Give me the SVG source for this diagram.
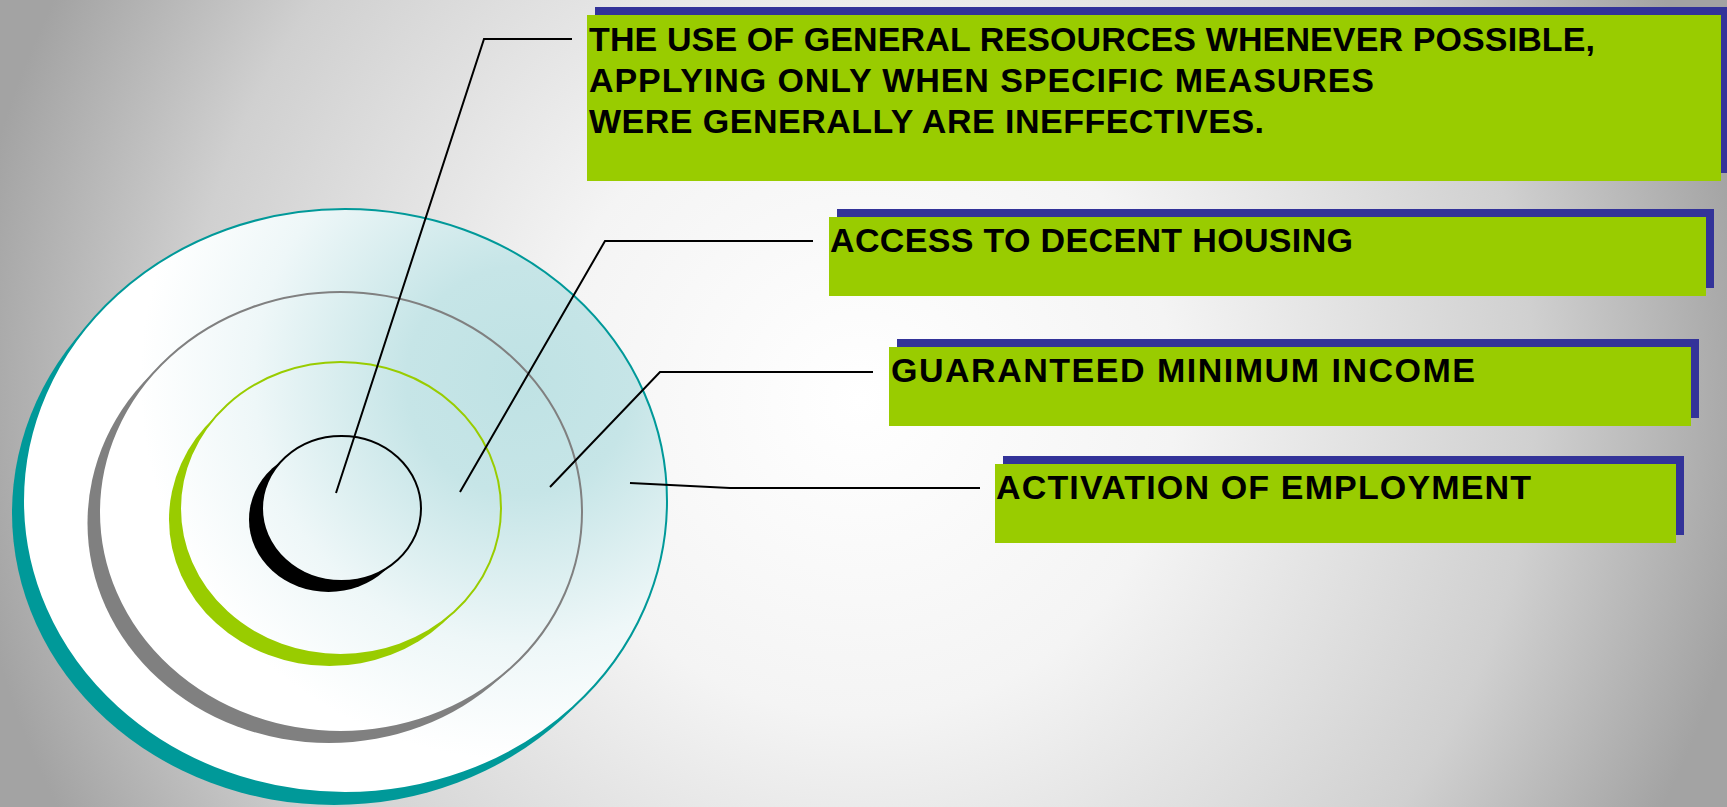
<svg xmlns="http://www.w3.org/2000/svg" width="1727" height="807" viewBox="0 0 1727 807">
<defs>
<radialGradient id="bg" gradientUnits="userSpaceOnUse" cx="860" cy="400" r="900">
<stop offset="0" stop-color="#ffffff"/>
<stop offset="0.35" stop-color="#f4f4f4"/>
<stop offset="0.75" stop-color="#d0d0d0"/>
<stop offset="1" stop-color="#a3a3a3"/>
</radialGradient>
<radialGradient id="disc" gradientUnits="userSpaceOnUse" cx="520" cy="380" r="380">
<stop offset="0" stop-color="#bfe2e4"/>
<stop offset="0.3" stop-color="#c6e5e7"/>
<stop offset="0.7" stop-color="#eef7f8"/>
<stop offset="1" stop-color="#ffffff"/>
</radialGradient>
<style>
.lbl{font-family:"Liberation Sans",Arial,sans-serif;font-weight:bold;font-size:34px;fill:#000}
.green{fill:#99cc00}
.blue{fill:#333399}
.conn{fill:none;stroke:#000;stroke-width:2}
.main{fill:url(#disc);stroke-width:2}
</style>
</defs>
<rect x="0" y="0" width="1727" height="807" fill="url(#bg)"/>

<g id="target">
<ellipse cx="334" cy="513" rx="322" ry="292" fill="#009999"/>
<ellipse class="main" cx="345" cy="501" rx="322" ry="292" stroke="#009999"/>
<ellipse cx="329" cy="523" rx="241.5" ry="220" fill="#808080"/>
<ellipse class="main" cx="340.5" cy="512" rx="241.5" ry="220" stroke="#808080"/>
<ellipse cx="329.5" cy="519.5" rx="160.5" ry="146.5" fill="#99cc00"/>
<ellipse class="main" cx="340.5" cy="508.5" rx="160.5" ry="146.5" stroke="#99cc00"/>
<ellipse cx="328.5" cy="519.5" rx="79.5" ry="72.5" fill="#000000"/>
<ellipse class="main" cx="341.5" cy="508.5" rx="79.5" ry="72.5" stroke="#000000"/>
</g>

<g id="connectors">
<polyline class="conn" points="336,493 484,39 572,39"/>
<polyline class="conn" points="460,492 605,241 813,241"/>
<polyline class="conn" points="550,487 660,372 873,372"/>
<polyline class="conn" points="630,483 730,488 980,488"/>
</g>

<g id="box1">
<rect class="blue" x="595" y="7" width="1134" height="166"/>
<rect class="green" x="587" y="15" width="1134" height="166"/>
<text class="lbl" x="589" y="51" textLength="1006" lengthAdjust="spacing">THE USE OF GENERAL RESOURCES WHENEVER POSSIBLE,</text>
<text class="lbl" x="589" y="92" textLength="785" lengthAdjust="spacing">APPLYING ONLY WHEN SPECIFIC MEASURES</text>
<text class="lbl" x="589" y="133" textLength="675" lengthAdjust="spacing">WERE GENERALLY ARE INEFFECTIVES.</text>
</g>

<g id="box2">
<rect class="blue" x="837" y="209" width="877" height="79"/>
<rect class="green" x="829" y="217" width="877" height="79"/>
<text class="lbl" x="830" y="252" textLength="523" lengthAdjust="spacing">ACCESS TO DECENT HOUSING</text>
</g>

<g id="box3">
<rect class="blue" x="897" y="339" width="802" height="79"/>
<rect class="green" x="889" y="347" width="802" height="79"/>
<text class="lbl" x="891" y="382" textLength="584" lengthAdjust="spacing">GUARANTEED MINIMUM INCOME</text>
</g>

<g id="box4">
<rect class="blue" x="1003" y="456" width="681" height="79"/>
<rect class="green" x="995" y="464" width="681" height="79"/>
<text class="lbl" x="996" y="499" textLength="535" lengthAdjust="spacing">ACTIVATION OF EMPLOYMENT</text>
</g>
</svg>
